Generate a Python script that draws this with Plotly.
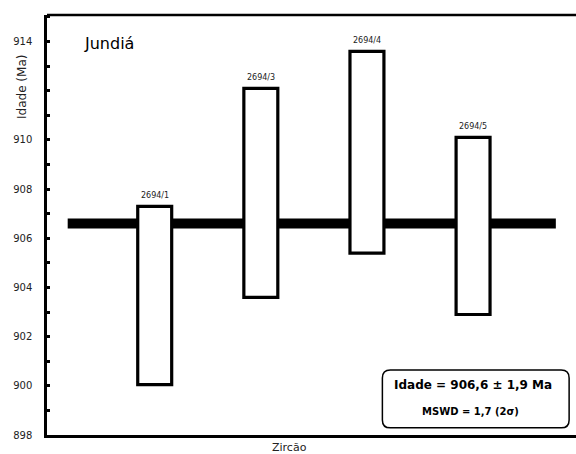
import plotly.graph_objects as go

# Zircon spot ages (Ma): upper and lower limits of each 2-sigma box
spots = ["2694/1", "2694/3", "2694/4", "2694/5"]
age_high = [907.3, 912.1, 913.6, 910.1]
age_low = [900.05, 903.6, 905.4, 902.9]

# Weighted mean age and statistics
mean_age = 906.6
mean_err = 1.9
mswd = 1.7

# labelled ages (912 is left free for the axis title)
y_ticks = [898, 900, 902, 904, 906, 908, 910, 914]

positions = list(range(1, len(spots) + 1))
FONT = "DejaVu Sans"

fig = go.Figure()

# one white box per analysed spot
fig.add_trace(go.Bar(
    x=positions,
    y=[h - l for h, l in zip(age_high, age_low)],
    base=age_low,
    width=0.32,
    marker=dict(color="white", line=dict(color="black", width=3.2)),
    hoverinfo="skip",
    showlegend=False,
))

# thick horizontal line at the mean age, behind the boxes
fig.add_shape(type="line", xref="x", yref="y", layer="below",
              x0=0.18, x1=4.78, y0=mean_age, y1=mean_age,
              line=dict(color="black", width=10))

# top border of the frame
fig.add_shape(type="line", xref="paper", yref="paper",
              x0=0, x1=1, y0=1, y1=1, line=dict(color="black", width=2.5))

# spot names above each box
for p, name, top in zip(positions, spots, age_high):
    fig.add_annotation(x=p, y=top, xref="x", yref="y", text=name,
                       showarrow=False, yanchor="bottom", yshift=4,
                       font=dict(family=FONT, size=8, color="#222"))

# rounded box holding the result
x0, x1, y0, y1 = 0.634, 0.987, 0.017, 0.155
rx, ry = 0.015, 0.019
path = (f"M {x0+rx},{y0} L {x1-rx},{y0} Q {x1},{y0} {x1},{y0+ry} "
        f"L {x1},{y1-ry} Q {x1},{y1} {x1-rx},{y1} "
        f"L {x0+rx},{y1} Q {x0},{y1} {x0},{y1-ry} "
        f"L {x0},{y0+ry} Q {x0},{y0} {x0+rx},{y0} Z")
fig.add_shape(type="path", xref="paper", yref="paper", path=path,
              fillcolor="white", line=dict(color="black", width=1.5))

fmt = lambda v: f"{v}".replace(".", ",")
fig.add_annotation(x=0.805, y=0.12, xref="paper", yref="paper",
                   text=f"<b>Idade = {fmt(mean_age)} ± {fmt(mean_err)} Ma</b>",
                   showarrow=False, xanchor="center", yanchor="middle",
                   font=dict(family=FONT, size=12, color="black"))
fig.add_annotation(x=0.80, y=0.057, xref="paper", yref="paper",
                   text=f"<b>MSWD = {fmt(mswd)} (2σ)</b>",
                   showarrow=False, xanchor="center", yanchor="middle",
                   font=dict(family=FONT, size=10, color="black"))

# locality name
fig.add_annotation(x=0.066, y=0.931, xref="paper", yref="paper",
                   text="Jundiá", showarrow=False,
                   xanchor="left", yanchor="middle",
                   font=dict(family=FONT, size=16, color="black"))

# axis titles
fig.add_annotation(x=-0.047, y=0.829, xref="paper", yref="paper",
                   text="Idade (Ma)", textangle=-90, showarrow=False,
                   xanchor="center", yanchor="middle",
                   font=dict(family=FONT, size=12, color="#222"))
fig.add_annotation(x=0.459, y=-0.029, xref="paper", yref="paper",
                   text="Zircão", showarrow=False,
                   xanchor="center", yanchor="middle",
                   font=dict(family=FONT, size=11, color="#222"))

fig.update_xaxes(range=[-0.015, 4.97], showticklabels=False, ticks="",
                 showgrid=False, zeroline=False,
                 showline=True, linecolor="black", linewidth=2.5)
fig.update_yaxes(range=[898, 915.08], tickvals=y_ticks,
                 ticks="inside", ticklen=3, tickwidth=2.5, tickcolor="black",
                 minor=dict(dtick=1, ticks="inside", ticklen=3,
                            tickwidth=2.5, tickcolor="black"),
                 showgrid=False, zeroline=False,
                 showline=True, linecolor="black", linewidth=2.5,
                 ticklabelstandoff=10,
                 tickfont=dict(family=FONT, size=10, color="#222"))

fig.update_layout(
    width=576, height=454,
    margin=dict(l=47, r=0, t=15, b=19),
    paper_bgcolor="white", plot_bgcolor="white",
    showlegend=False,
)

fig.write_html("out.html")
